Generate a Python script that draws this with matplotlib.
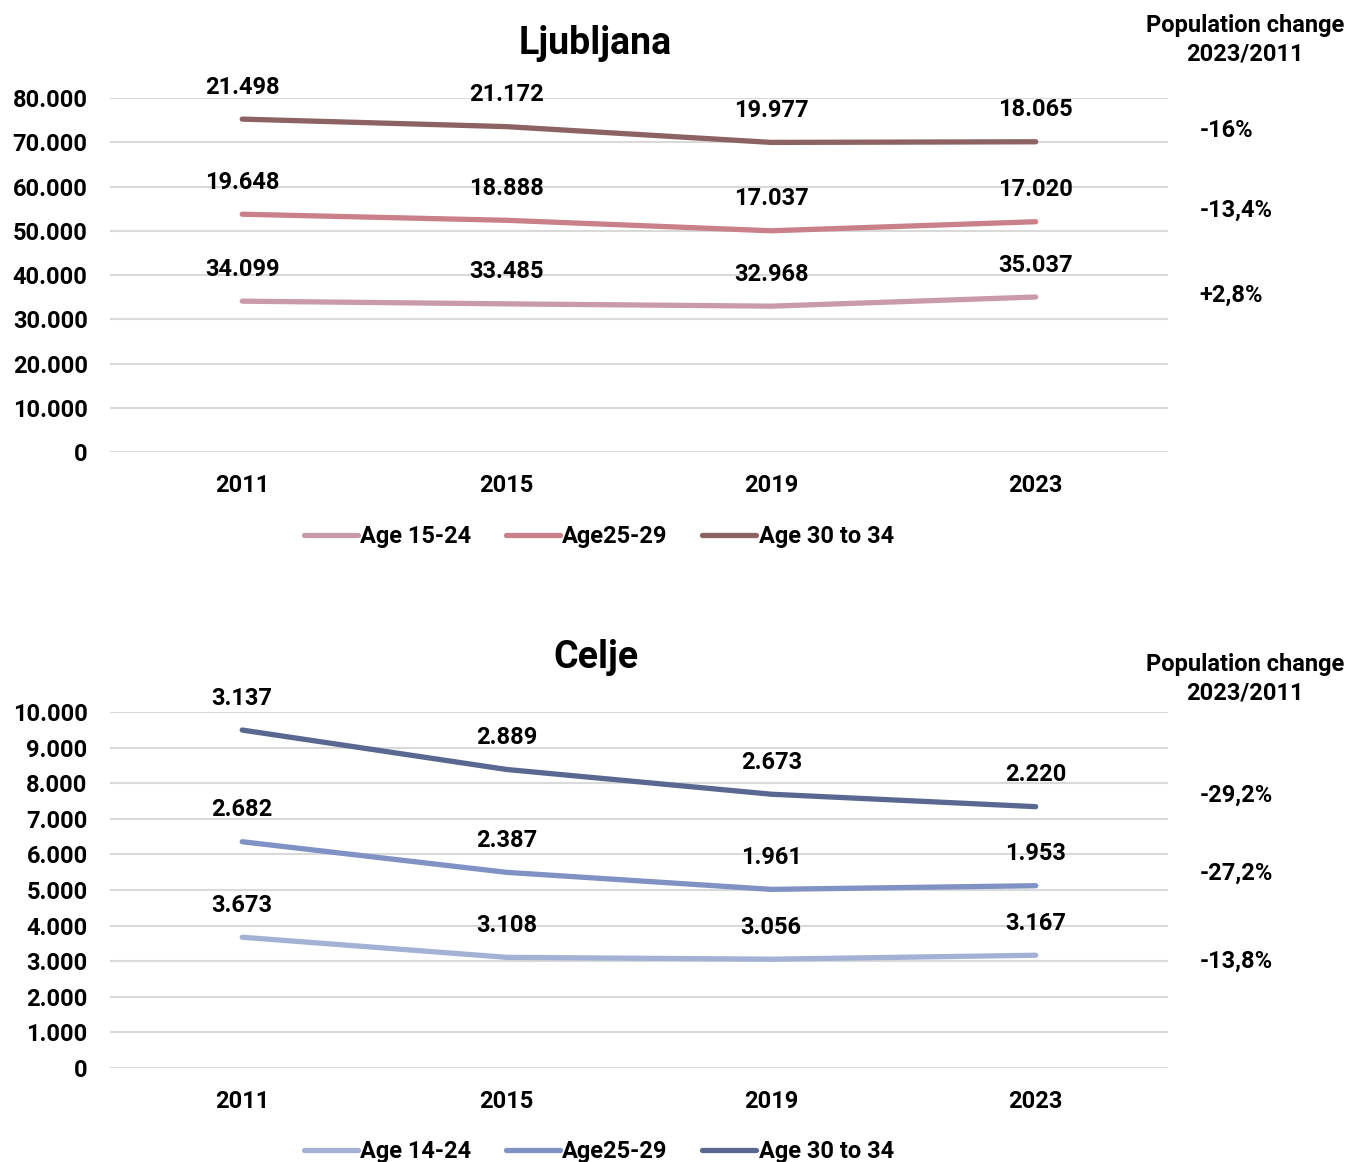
import numpy as np
import matplotlib
matplotlib.use("Agg")
import matplotlib.pyplot as plt

plt.rcParams['font.family'] = ['Roboto', 'DejaVu Sans']
plt.rcParams['font.weight'] = 'bold'

years = ['2011', '2015', '2019', '2023']

# Ljubljana, persons per age group
lj_labels = ['Age 15-24', 'Age25-29', 'Age 30 to 34']
lj_15_24 = [34099, 33485, 32968, 35037]
lj_25_29 = [19648, 18888, 17037, 17020]
lj_30_34 = [21498, 21172, 19977, 18065]
lj_colors = ['#c99aa9', '#c98089', '#8c6262']

# Celje, persons per age group
ce_labels = ['Age 14-24', 'Age25-29', 'Age 30 to 34']
ce_14_24 = [3673, 3108, 3056, 3167]
ce_25_29 = [2682, 2387, 1961, 1953]
ce_30_34 = [3137, 2889, 2673, 2220]
ce_colors = ['#a3b2d4', '#8091c3', '#586891']

FS = 17


def fmt_thousands(v):
    return f"{int(round(v)):,}".replace(",", ".")


def fmt_change(first, last):
    p = round((last / first - 1) * 100, 1)
    s = f"{p:+.1f}"
    if s.endswith(".0"):
        s = s[:-2]
    return s.replace(".", ",") + "%"


def draw_panel(ax, title, series, labels, colors, ymax, ystep, change_y, head_y, legend_y):
    x = np.arange(len(years))
    cum = np.cumsum(np.array(series, dtype=float), axis=0)
    for i, (vals, top) in enumerate(zip(series, cum)):
        ax.plot(x, top, color=colors[i], lw=3.8, solid_capstyle='round',
                label=labels[i], zorder=3)
        for xi, yi, v in zip(x, top, vals):
            ax.annotate(fmt_thousands(v), (xi, yi), xytext=(0, 23),
                        textcoords='offset points', ha='center', va='center',
                        fontsize=FS, fontweight='bold', annotation_clip=False)
        ax.text(1.030, change_y[i], fmt_change(vals[0], vals[-1]),
                transform=ax.transAxes, ha='left', va='center',
                fontsize=FS, fontweight='bold')
    ax.set_xlim(-0.5, len(years) - 0.5)
    ax.set_ylim(0, ymax)
    ax.set_yticks(np.arange(0, ymax + 1, ystep))
    ax.set_yticklabels([fmt_thousands(v) for v in np.arange(0, ymax + 1, ystep)])
    ax.set_xticks(x)
    ax.set_xticklabels(years)
    ax.tick_params(length=0, labelsize=FS, pad=16)
    for lab in ax.get_xticklabels() + ax.get_yticklabels():
        lab.set_fontweight('bold')
    ax.grid(axis='y', color='#d9d9d9', lw=1.5, zorder=0)
    for s in ax.spines.values():
        s.set_visible(False)
    ax.text(0.459, head_y[0], title, transform=ax.transAxes, ha='center',
            va='center', fontsize=27, fontweight='bold')
    ax.text(1.073, head_y[1], 'Population change\n2023/2011', transform=ax.transAxes,
            ha='center', va='center', fontsize=FS, fontweight='bold', linespacing=1.3)
    ax.legend(loc='center', bbox_to_anchor=(0.462, legend_y), ncol=3, frameon=False,
              fontsize=FS, handlelength=2.3, handletextpad=0.1, columnspacing=1.45)


fig = plt.figure(figsize=(13.49, 11.62), dpi=100)
ax1 = fig.add_axes([0.0815, 0.611, 0.7843, 0.3046])
ax2 = fig.add_axes([0.0815, 0.0809, 0.7843, 0.3064])

draw_panel(ax1, 'Ljubljana', [lj_15_24, lj_25_29, lj_30_34], lj_labels, lj_colors,
           80000, 10000, [0.4435, 0.6836, 0.9096], (1.155, 1.164), -0.240)
draw_panel(ax2, 'Celje', [ce_14_24, ce_25_29, ce_30_34], ce_labels, ce_colors,
           10000, 1000, [0.3006, 0.5478, 0.7669], (1.154, 1.093), -0.234)

fig.savefig('out.png', dpi=100)
